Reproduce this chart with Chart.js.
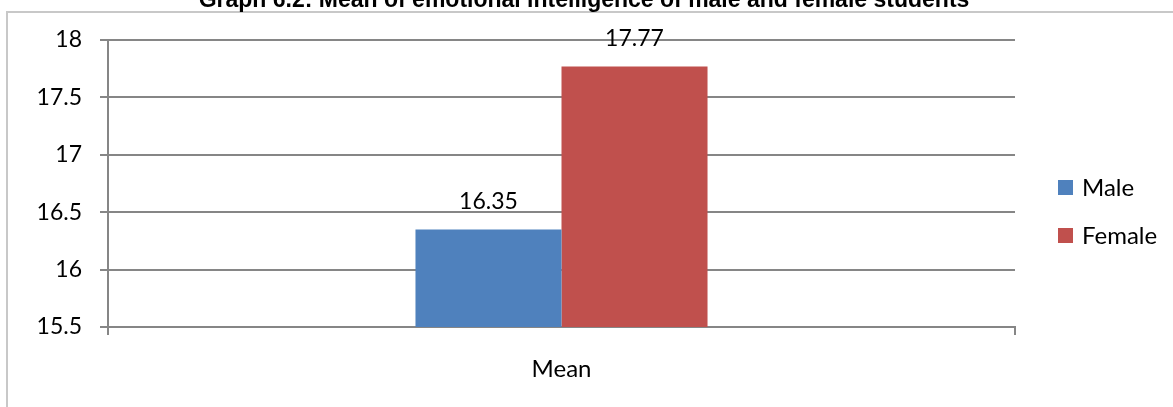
<!DOCTYPE html>
<html>
<head>
<meta charset="utf-8">
<script src="https://cdn.jsdelivr.net/npm/chart.js@4"></script>
<style>
  html, body { margin: 0; padding: 0; background: #fff; }
  #wrap { width: 1173px; height: 407px; position: relative; }
</style>
</head>
<body>
<div id="wrap"><canvas id="meanChart"></canvas></div>
<script>
// data
const categories = ['Mean'];
const seriesNames = ['Male', 'Female'];
const maleValues = [16.35];
const femaleValues = [17.77];
const seriesColors = ['#4F81BD', '#C0504D'];
const yTicks = [15.5, 16, 16.5, 17, 17.5, 18];
const titleText = 'Graph 6.2: Mean of emotional intelligence of male and female students';

const FONT = 'Lato, "Open Sans", sans-serif';
const GRID = '#868686';

// frame, clipped title, value labels and the legend on the right
const decor = {
    id: 'decor',
    afterDraw(chart) {
        const ctx = chart.ctx;
        ctx.save();
        // outer frame
        ctx.strokeStyle = '#C8C8C8';
        ctx.lineWidth = 2;
        ctx.strokeRect(7, 12, 1200, 420);

        // title (cut off at the top in the original)
        ctx.fillStyle = '#000';
        ctx.font = 'bold 23px "Liberation Sans", Arial, sans-serif';
        ctx.textAlign = 'center';
        ctx.textBaseline = 'alphabetic';
        ctx.fillText(titleText, 584, 7);

        // value labels above bars
        ctx.font = '23px ' + FONT;
        ctx.textBaseline = 'middle';
        chart.data.datasets.forEach((ds, i) => {
            chart.getDatasetMeta(i).data.forEach((bar, j) => {
                ctx.fillText(ds.data[j].toFixed(2), bar.x, bar.y - 28);
            });
        });

        // legend
        ctx.textAlign = 'left';
        const rows = [187, 235];
        chart.data.datasets.forEach((ds, i) => {
            ctx.fillStyle = ds.backgroundColor;
            ctx.fillRect(1058, rows[i] - 7, 15, 15);
            ctx.fillStyle = '#000';
            ctx.font = '24px ' + FONT;
            ctx.fillText(ds.label, 1082, rows[i] + 1);
        });
        ctx.restore();
    }
};

new Chart(document.getElementById('meanChart'), {
    type: 'bar',
    data: {
        labels: categories,
        datasets: [
            { label: seriesNames[0], data: maleValues, backgroundColor: seriesColors[0] },
            { label: seriesNames[1], data: femaleValues, backgroundColor: seriesColors[1] }
        ]
    },
    options: {
        responsive: true,
        maintainAspectRatio: false,
        animation: false,
        categoryPercentage: 0.322,
        barPercentage: 1,
        layout: { padding: { left: 0, right: 158, top: 40, bottom: 0 } },
        plugins: {
            legend: { display: false },
            title: { display: false },
            tooltip: { enabled: false }
        },
        scales: {
            x: {
                offset: true,
                grid: {
                    offset: true,
                    drawOnChartArea: false,
                    color: GRID,
                    lineWidth: 2,
                    tickLength: 8
                },
                border: { color: GRID, width: 2 },
                ticks: { color: '#000', font: { family: FONT, size: 24 }, padding: 20 },
                afterFit(scale) { scale.height = 80; }
            },
            y: {
                min: 15.5,
                max: 18,
                afterBuildTicks(scale) { scale.ticks = yTicks.map(v => ({ value: v })); },
                grid: { color: GRID, lineWidth: 2, tickLength: 8 },
                border: { color: GRID, width: 2 },
                ticks: {
                    color: '#000',
                    font: { family: FONT, size: 23 },
                    padding: 18,
                    callback: v => String(v)
                },
                afterFit(scale) { scale.width = 108; }
            }
        }
    },
    plugins: [decor]
});
</script>
</body>
</html>
